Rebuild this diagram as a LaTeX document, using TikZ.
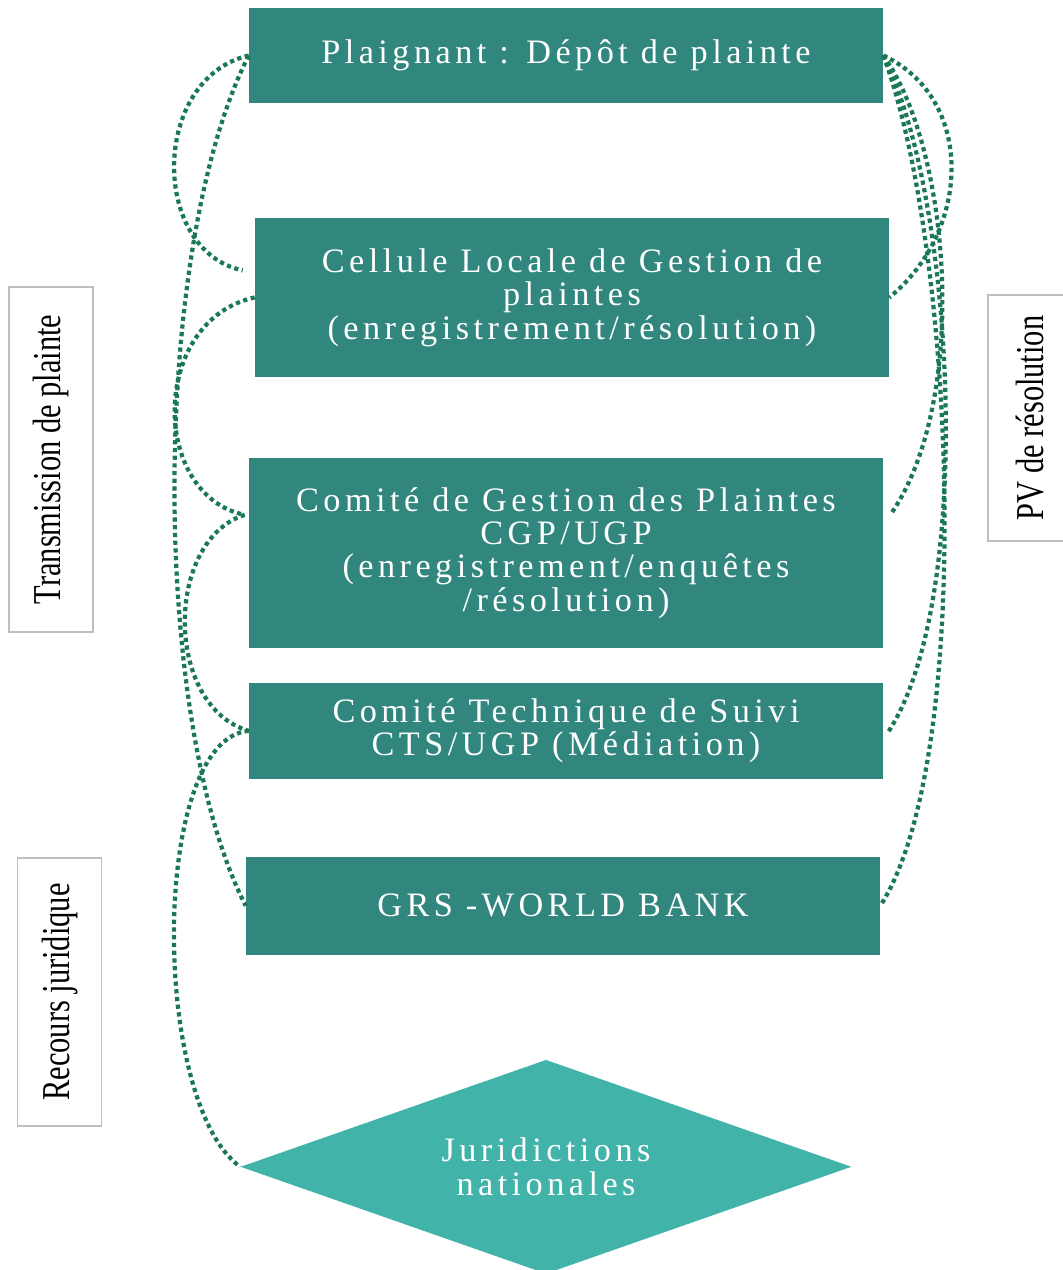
\documentclass[tikz,border=0pt]{standalone}
\usepackage{fontspec}
\setmainfont{Liberation Serif}
\newfontfamily\boxfont[LetterSpace=13]{Liberation Serif}
\newfontfamily\sidefont[FakeStretch=0.77]{Liberation Serif}
\usetikzlibrary{shapes.geometric}
\definecolor{tealbox}{RGB}{49,135,125}
\definecolor{tealjur}{RGB}{65,179,169}
\definecolor{dotgreen}{RGB}{27,120,85}
\definecolor{sidegray}{RGB}{191,191,191}
\tikzstyle{stage} = [rectangle, minimum width=12.68cm, text centered, align=center, fill=tealbox, text=white, font=\boxfont\fontsize{19.5}{19}\selectfont]
\tikzstyle{juri} = [diamond, aspect=2.85, minimum width=12.22cm, minimum height=4.28cm, inner sep=0pt, align=center, fill=tealjur, text=white, font=\boxfont\fontsize{19.5}{19}\selectfont]
\tikzstyle{side} = [rectangle, rotate=90, minimum height=1.68cm, draw=sidegray, line width=1.1pt, fill=white, font=\sidefont\fontsize{22.5}{27}\selectfont]
\tikzstyle{link} = [dotgreen, line width=2.4pt, dash pattern=on 2.4pt off 2pt]

\begin{document}
\begin{tikzpicture}[x=0.02cm, y=-0.02cm, node distance=4cm]
\useasboundingbox (0,0) rectangle (1062,1270);

%Boxes
\node (plaignant) [stage, minimum height=1.9cm] at (566,55.5) {Plaignant : Dépôt de plainte};
\node (cellule) [stage, minimum height=3.18cm, below of=plaignant, xshift=0.12cm, yshift=-0.84cm] {Cellule Locale de Gestion de\\plaintes\\(enregistrement/résolution)};
\node (cgp) [stage, minimum height=3.8cm, below of=cellule, xshift=-0.12cm, yshift=-1.11cm] {Comité de Gestion des Plaintes\\CGP/UGP\\(enregistrement/enquêtes\\/résolution)};
\node (cts) [stage, minimum height=1.92cm, below of=cgp, yshift=0.44cm] {Comité Technique de Suivi\\CTS/UGP (Médiation)};
\node (grs) [stage, minimum height=1.96cm, below of=cts, xshift=-0.06cm, yshift=0.5cm] {GRS -WORLD BANK};
\node (juri) [juri, below of=grs, xshift=-0.34cm, yshift=-1.22cm] {Juridictions\\nationales};

%Side labels
\node (transmission) [side, minimum width=6.9cm] at (51,459.5) {Transmission de plainte};
\node (pv) [side, minimum width=4.92cm] at (1030,418) {PV de résolution};
\node (recours) [side, minimum width=5.36cm] at (59.5,992) {Recours juridique};

%left links
\draw [link] (plaignant.west) .. controls +(-98,23) and +(-93,-20) .. ([xshift=-0.24cm,yshift=0.54cm]cellule.west);
\draw [link] (plaignant.west) .. controls +(-98,193) and +(-96,-187) .. (grs.west);
\draw [link] (cellule.west) .. controls +(-105,23) and +(-95,-20) .. ([xshift=-0.08cm,yshift=0.76cm]cgp.west);
\draw [link] ([xshift=-0.08cm,yshift=0.76cm]cgp.west) .. controls +(-80,25) and +(-85,-25) .. (cts.west);
\draw [link] (cts.west) .. controls +(-98,8) and +(-90,-65) .. (juri.west);

%right links
\draw [link] (plaignant.east) .. controls +(92,43) and +(82,-67) .. (cellule.east);
\draw [link] (plaignant.east) .. controls +(67,93) and +(80,-115) .. ([xshift=0.14cm,yshift=0.76cm]cgp.east);
\draw [link] (plaignant.east) .. controls +(72,143) and +(87,-133) .. ([xshift=0.1cm,yshift=-0.02cm]cts.east);
\draw [link] (plaignant.east) .. controls +(72,193) and +(95,-147) .. (grs.east);

\end{tikzpicture}
\end{document}
